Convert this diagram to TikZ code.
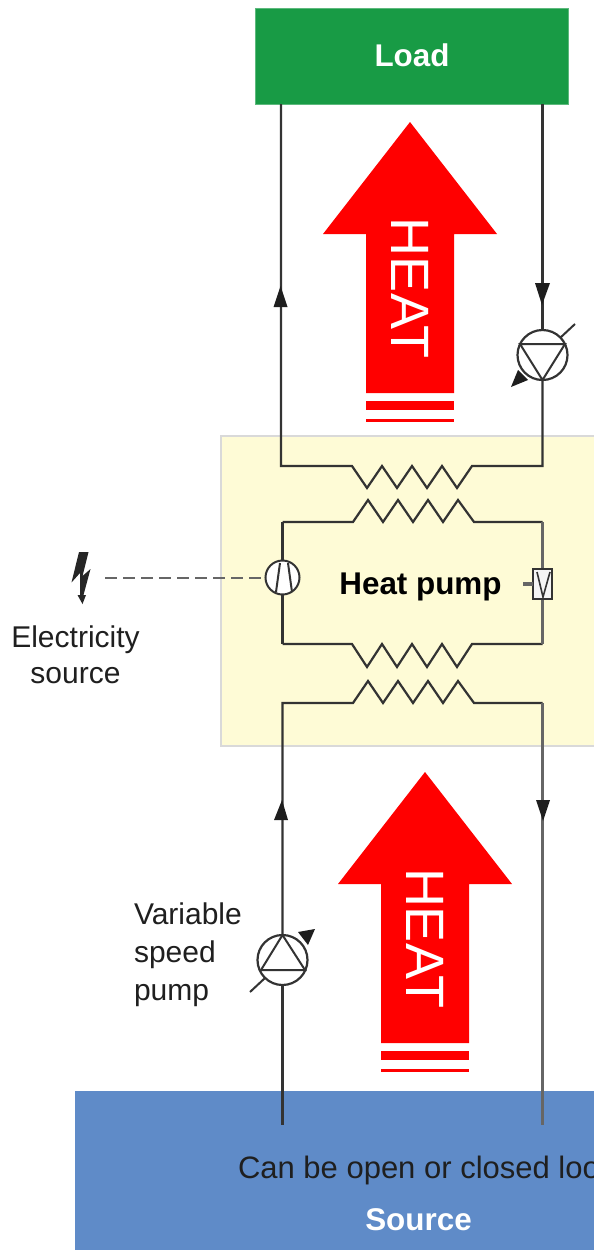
\documentclass[tikz,border=0pt]{standalone}
\usepackage{fontspec}
\setmainfont{Liberation Sans}
\usetikzlibrary{calc}
\definecolor{pipecol}{HTML}{333333}
\definecolor{pipegray}{HTML}{666666}
\definecolor{tipcol}{HTML}{1E1E1E}
\definecolor{loadgreen}{HTML}{189B45}
\definecolor{hpyellow}{HTML}{FEFBD6}
\definecolor{srcblue}{HTML}{5F8BC8}
\tikzset{
  pipe/.style={draw=pipecol,line width=2.2pt,line join=miter},
  graypipe/.style={draw=pipegray,line width=2.6pt},
  symb/.style={draw=pipecol,line width=2pt,line join=miter},
  txt/.style={inner sep=0pt,outer sep=0pt,anchor=base,font=\fontsize{30}{30}\selectfont,text=black!88},
  boldtxt/.style={inner sep=0pt,outer sep=0pt,anchor=base,font=\fontsize{31.4}{31.4}\selectfont\bfseries},
  panel/.style={inner sep=0pt,outer sep=0pt,minimum width=0pt},
  pumpc/.style={circle,draw=pipecol,fill=none,line width=2.2pt,inner sep=0pt,outer sep=0pt,minimum size=50pt},
  tip/.style={fill=tipcol,draw=none},
  heattxt/.style={inner sep=0pt,text=white,rotate=-90,font=\fontsize{54}{54}\selectfont},
}
\newcommand{\heatarrow}[3]{%
  \fill[red] (#1,#2) -- ++(87,112) -- ++(-43,0) -- ++(0,159) -- ++(-88,0) -- ++(0,-159) -- ++(-43,0) -- cycle;
  \fill[red] ($(#1,#2)+(-44,279)$) rectangle ++(88,9);
  \fill[red] ($(#1,#2)+(-44,297)$) rectangle ++(88,3);
  \node[heattxt] (#3) at ($(#1,#2)+(0,166)$) {HEAT};
}
\begin{document}
\begin{tikzpicture}[x=1pt,y=-1pt]
\useasboundingbox (0,0) rectangle (594,1250);
\clip (0,0) rectangle (594,1250);
\fill[white] (0,0) rectangle (594,1250);
% panels
\node[panel,fill=loadgreen,draw=loadgreen!70!white,line width=.8pt,minimum width=313pt,minimum height=96pt,anchor=north west] (load) at (255,8) {};
\node[panel,fill=hpyellow,draw=black!15,line width=1.5pt,minimum width=400pt,minimum height=310pt,anchor=north west] (hp) at (221,436) {};
\node[panel,fill=srcblue,minimum width=540pt,minimum height=170pt,anchor=north west] (source) at (75,1091) {};
% coordinates
\coordinate (loadL) at (281,104);
\coordinate (loadR) at (542.5,104);
\coordinate (srcL) at (282.5,1125);
\coordinate (srcR) at (542.5,1125);
\coordinate (c1L) at (281,466);
\coordinate (c1R) at (542.5,466);
\coordinate (c2L) at (282.5,522);
\coordinate (c2R) at (542.5,522);
\coordinate (c3L) at (282.5,644);
\coordinate (c3R) at (542.5,644);
\coordinate (c4L) at (282.5,703);
\coordinate (c4R) at (542.5,703);
\coordinate (dashS) at (105,577.5);
% pumps and devices
\node[pumpc] (pumpT) at (542.5,355) {};
\node[pumpc] (pumpB) at (282.5,960) {};
% pipes
\draw[pipe] (loadL) -- (c1L) -- (352,466) -- (367,488) -- (382,466) -- (397,488) -- (412,466) -- (427,488) -- (442,466) -- (457,488) -- (472,466) -- (c1R) -- (pumpT.south);
\draw[pipe] (loadR) -- (pumpT.north);
\draw[pipe] (c2L) -- (353,522) -- (368,500) -- (383,522) -- (398,500) -- (413,522) -- (428,500) -- (443,522) -- (458,500) -- (474,522) -- (c2R);
\draw[pipe] (c3L) -- (352,644) -- (367,667) -- (382,644) -- (397,667) -- (412,644) -- (427,667) -- (442,644) -- (457,667) -- (472,644) -- (c3R);
\draw[pipe] (c2L) -- (c3L);
\draw[graypipe] (c2R) -- (c3R);
\draw[pipe] (pumpB.north) -- (c4L) -- (353,703) -- (368,681) -- (383,703) -- (398,681) -- (413,703) -- (428,681) -- (443,703) -- (458,681) -- (474,703) -- (c4R);
\draw[graypipe] (c4R) -- (srcR);
\draw[pipe] (pumpB.south) -- (srcL);
\node[circle,draw=pipecol,fill=white,line width=2pt,inner sep=0pt,outer sep=0pt,minimum size=34pt] (comp) at (282.5,577.5) {};
\node[rectangle,draw=pipecol,fill=white!92!gray,line width=1.8pt,inner sep=0pt,outer sep=0pt,minimum width=19pt,minimum height=30pt] (valve) at (542.5,584) {};
% flow arrowheads
\fill[tip] (280.5,286) -- (287.5,307) -- (273.5,307) -- cycle;
\fill[tip] (542,305) -- (535,283) -- (550,283) -- cycle;
\fill[tip] (282,800) -- (288,820) -- (274,820) -- cycle;
\fill[tip] (543,821) -- (536,800) -- (550,800) -- cycle;
% top pump
\draw[symb] (520,344) -- (565,344) -- (542.5,380) -- cycle;
\draw[symb] (560,338) -- (575,324);
\fill[tipcol] (511,387) -- (518,370) -- (528,380) -- cycle;
% bottom pump
\draw[symb] (261,970) -- (305,970) -- (282.5,935) -- cycle;
\draw[symb] (265,978) -- (250,992);
\fill[tipcol] (315,929) -- (298,932) -- (308,945) -- cycle;
% compressor internals
\draw[pipecol,line width=2pt] (280,563) -- (276,592) (288,563) -- (292,592);
% valve internals
\draw[pipecol,line width=1.6pt] (537,572) -- (543,597) -- (550,572);
\draw[pipegray,line width=4pt] (523,584) -- (533,584);
% electricity
\draw[pipegray,line width=2pt,dash pattern=on 12pt off 6pt] (dashS) -- (comp.west);
\fill[black!85] (79,552) -- (71.5,582.5) -- (80,573) -- (80,595) -- (77.5,595) -- (82.5,604) -- (86,595) -- (83.5,595) -- (90.5,569) -- (82.5,576) -- (88.5,552) -- cycle;
% heat arrows
\heatarrow{410}{122}{heatT}
\heatarrow{425}{772}{heatB}
% labels
\node[boldtxt,text=white] (loadT) at (412,66) {Load};
\node[boldtxt,text=black] (hpT) at (420.5,594) {Heat pump};
\node[boldtxt,text=white] (srcT) at (418.5,1230) {Source};
\node[txt] (el1) at (75.5,647) {Electricity};
\node[txt] (el2) at (75.5,683) {source};
\node[txt,anchor=base west] (vs1) at (134,924) {Variable};
\node[txt,anchor=base west] (vs2) at (134,962) {speed};
\node[txt,anchor=base west] (vs3) at (134,1000) {pump};
\node[txt,anchor=base west,font=\fontsize{31}{31}\selectfont] (open) at (238,1178) {Can be open or closed loop};
\end{tikzpicture}
\end{document}
